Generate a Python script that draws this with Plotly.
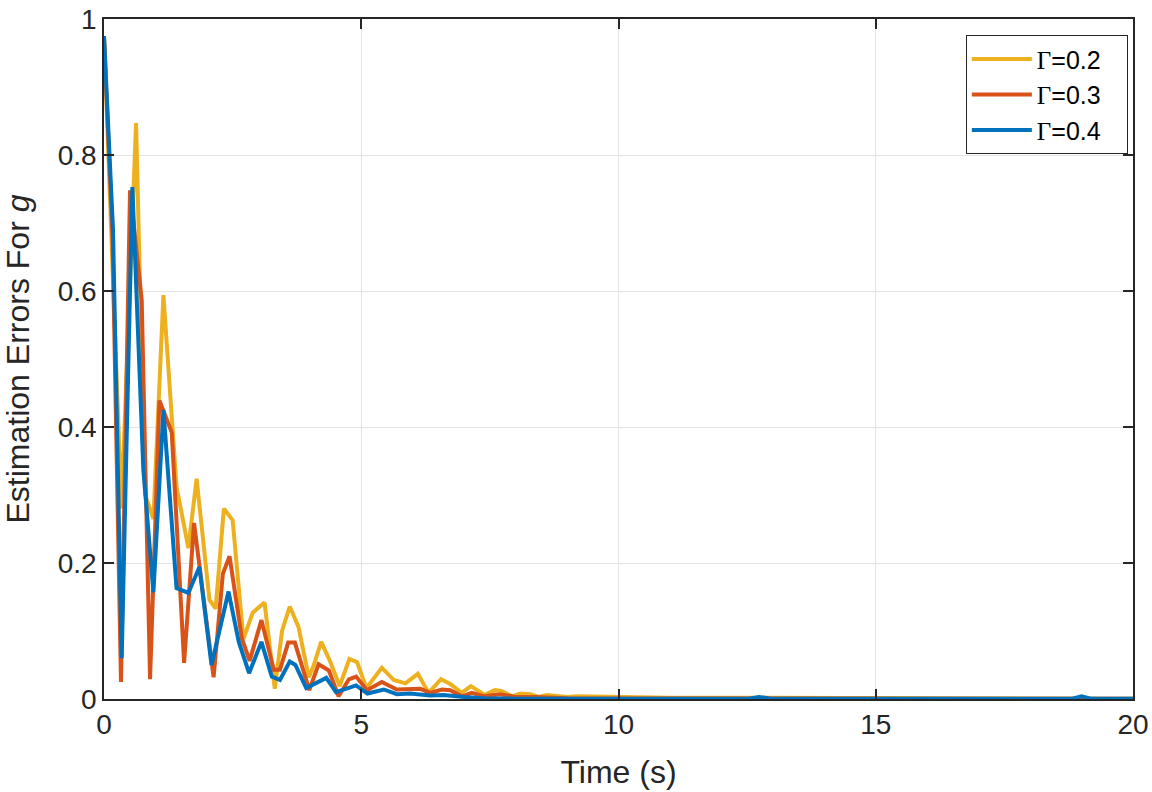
import plotly.graph_objects as go

# ---- data ----
t_g02 = [0, 0.34, 0.623, 0.8, 0.96, 1.155, 1.41, 1.64, 1.8, 2.05, 2.17, 2.33, 2.5, 2.71, 2.89, 3.12,
         3.32, 3.46, 3.61, 3.78, 3.98, 4.07, 4.22, 4.38, 4.58, 4.77, 4.92, 5.1, 5.4, 5.63, 5.86, 6.1,
         6.31, 6.55, 6.73, 6.95, 7.13, 7.4, 7.6, 7.72, 7.93, 8.09, 8.29, 8.45, 8.61, 8.81, 9.0, 9.2,
         9.6, 10.0, 11.0, 12.0, 13.0, 14.0, 16.0, 18.0, 20.0]
e_g02 = [0.975, 0.28, 0.847, 0.30, 0.265, 0.594, 0.312, 0.222, 0.324, 0.146, 0.133, 0.28, 0.263,
         0.088, 0.127, 0.142, 0.015, 0.1, 0.136, 0.106, 0.032, 0.048, 0.084, 0.058, 0.019, 0.059,
         0.054, 0.016, 0.046, 0.028, 0.023, 0.037, 0.009, 0.029, 0.022, 0.009, 0.019, 0.006, 0.013,
         0.012, 0.004, 0.008, 0.007, 0.003, 0.006, 0.005, 0.003, 0.004, 0.0035, 0.0025, 0.002,
         0.0018, 0.0015, 0.001, 0.0008, 0.0006, 0.0005]

t_g03 = [0, 0.165, 0.33, 0.506, 0.733, 0.895, 1.077, 1.317, 1.557, 1.75, 2.13, 2.31, 2.44, 2.68,
         2.83, 3.06, 3.3, 3.42, 3.58, 3.71, 3.99, 4.17, 4.37, 4.56, 4.76, 4.9, 5.11, 5.4, 5.69,
         5.89, 6.15, 6.34, 6.57, 6.73, 6.96, 7.15, 7.38, 7.7, 8.0, 8.4, 9.0, 10.0, 12.0, 14.0,
         16.0, 18.0, 20.0]
e_g03 = [0.975, 0.68, 0.025, 0.748, 0.587, 0.029, 0.439, 0.392, 0.053, 0.259, 0.032, 0.184, 0.21,
         0.089, 0.056, 0.116, 0.043, 0.043, 0.083, 0.083, 0.013, 0.051, 0.042, 0.004, 0.029,
         0.033, 0.013, 0.025, 0.014, 0.015, 0.015, 0.009, 0.014, 0.013, 0.004, 0.009, 0.004,
         0.007, 0.003, 0.003, 0.001, 0.0008, 0.0005, 0.0004, 0.0003, 0.0003, 0.0002]

t_g04 = [0, 0.175, 0.344, 0.551, 0.765, 0.96, 1.155, 1.41, 1.64, 1.855, 2.09, 2.42, 2.62, 2.82,
         3.06, 3.26, 3.42, 3.61, 3.72, 3.93, 4.11, 4.32, 4.51, 4.9, 5.12, 5.44, 5.69, 5.95, 6.34,
         6.6, 7.0, 7.38, 8.0, 9.0, 10.0, 11.0, 12.5, 12.73, 13.0, 14.0, 15.0, 16.0, 17.0, 18.0,
         18.8, 19.0, 19.2, 20.0]
e_g04 = [0.975, 0.69, 0.06, 0.753, 0.337, 0.157, 0.425, 0.163, 0.156, 0.194, 0.05, 0.158, 0.084,
         0.038, 0.084, 0.033, 0.028, 0.055, 0.05, 0.016, 0.023, 0.031, 0.01, 0.02, 0.008, 0.014,
         0.007, 0.008, 0.005, 0.006, 0.003, 0.001, 0.0005, 0.0003, 0.0002, 0.0002, 0.0002, 0.003,
         0.0002, 0.0002, 0.0002, 0.0002, 0.0002, 0.0002, 0.0002, 0.004, 0.0002, 0.0002]

series_names = ['<span style="font-family:Liberation Serif">Γ</span>=0.2\u00a0\u00a0\u00a0',
                '<span style="font-family:Liberation Serif">Γ</span>=0.3\u00a0\u00a0\u00a0',
                '<span style="font-family:Liberation Serif">Γ</span>=0.4\u00a0\u00a0\u00a0']
series_colors = ["#EDB120", "#D95319", "#0072BD"]

x_ticks = [0, 5, 10, 15, 20]
y_ticks = [0, 0.2, 0.4, 0.6, 0.8, 1]
y_tick_labels = ["0", "0.2", "0.4", "0.6", "0.8", "1"]

fig = go.Figure()
for t, e, name, col in zip([t_g02, t_g03, t_g04], [e_g02, e_g03, e_g04], series_names, series_colors):
    fig.add_trace(go.Scatter(x=t, y=e, mode="lines", name=name,
                             line=dict(color=col, width=4)))

axis_common = dict(
    showgrid=True, gridcolor="#e3e3e3", gridwidth=1,
    showline=True, linecolor="#262626", linewidth=1.5, mirror="ticks",
    ticks="inside", ticklen=10, tickwidth=1.5, tickcolor="#262626",
    zeroline=False, automargin=False, ticklabeloverflow="allow",
    tickfont=dict(family="Liberation Sans", size=28, color="#262626"),
)

fig.update_layout(
    width=1152, height=792,
    paper_bgcolor="white", plot_bgcolor="white",
    margin=dict(l=104, r=19, t=19, b=93),
    font=dict(family="Liberation Sans", color="#262626"),
    xaxis=dict(range=[0, 20], tickvals=x_ticks, ticktext=[str(v) for v in x_ticks],
               title=dict(text="Time (s)", font=dict(size=32, color="#262626"), standoff=21),
               **axis_common),
    yaxis=dict(range=[0, 1], tickvals=y_ticks, ticktext=y_tick_labels,
               title=dict(text="Estimation Errors For <i>g</i>", font=dict(size=32, color="#262626"), standoff=23),
               **axis_common),
    legend=dict(x=0.995, y=0.976, xanchor="right", yanchor="top",
                bgcolor="white", bordercolor="#262626", borderwidth=1,
                font=dict(family="Liberation Sans", size=25, color="black"),
                itemwidth=60, tracegroupgap=0),
    showlegend=True,
)

fig.write_html("out.html", config={"displayModeBar": False},
               post_script="document.body.style.margin='0px';document.body.style.overflow='hidden';")
